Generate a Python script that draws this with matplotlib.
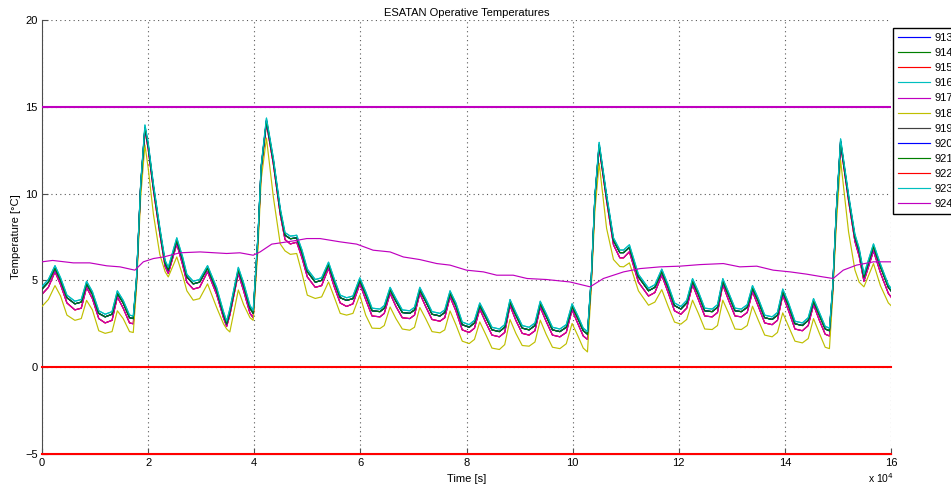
import numpy as np
import matplotlib
matplotlib.use("Agg")
import matplotlib.pyplot as plt
from matplotlib.ticker import FuncFormatter

# ---------------------------------------------------------------------------
# Data: node temperatures [degC] versus time (time given in units of 1e4 s)
# ---------------------------------------------------------------------------
time_1e4s = [
    0.00, 0.12, 0.245, 0.35, 0.47, 0.62, 0.74, 0.84, 0.95, 1.07, 1.19, 1.32, 1.42,
    1.53, 1.65, 1.72, 1.78, 1.86, 1.94, 2.00, 2.10, 2.22, 2.32, 2.38, 2.54, 2.65,
    2.73, 2.85, 2.97, 3.12, 3.29, 3.42, 3.48, 3.54, 3.70, 3.80, 3.92, 3.98, 4.07,
    4.13, 4.23, 4.36, 4.49, 4.58, 4.68, 4.80, 4.90, 5.00, 5.15, 5.27, 5.40, 5.50,
    5.62, 5.74, 5.86, 5.99, 6.10, 6.22, 6.37, 6.45, 6.56, 6.67, 6.79, 6.93, 7.02,
    7.12, 7.23, 7.35, 7.50, 7.59, 7.69, 7.80, 7.92, 8.05, 8.15, 8.25, 8.36, 8.48,
    8.62, 8.72, 8.82, 8.93, 9.05, 9.18, 9.29, 9.39, 9.50, 9.62, 9.76, 9.88, 9.99,
    10.10, 10.20, 10.28, 10.35, 10.42, 10.50, 10.64, 10.77, 10.89, 10.96, 11.07,
    11.24, 11.43, 11.55, 11.68, 11.80, 11.92, 12.04, 12.15, 12.26, 12.37, 12.49,
    12.63, 12.73, 12.83, 12.94, 13.06, 13.18, 13.29, 13.39, 13.50, 13.62, 13.76,
    13.86, 13.96, 14.07, 14.19, 14.33, 14.44, 14.54, 14.65, 14.76, 14.84, 14.90,
    14.97, 15.05, 15.20, 15.32, 15.40, 15.49, 15.67, 15.80, 15.95, 16.00,
]

# bulk of the nodes (913, 914, 919, 920, 921)
temp_main = [
    4.50, 4.90, 5.70, 5.00, 4.00, 3.65, 3.75, 4.80, 4.20, 3.10, 2.90, 3.05, 4.25,
    3.70, 2.85, 2.80, 5.00, 10.50, 13.80, 12.80, 10.40, 7.90, 6.00, 5.60, 7.30, 6.20,
    5.20, 4.80, 4.90, 5.70, 4.45, 3.05, 2.50, 3.20, 5.60, 4.70, 3.40, 3.10, 7.50,
    11.50, 14.20, 11.90, 9.00, 7.60, 7.40, 7.45, 6.60, 5.50, 4.90, 5.00, 5.90, 5.00,
    4.00, 3.85, 3.95, 5.00, 4.20, 3.25, 3.20, 3.40, 4.45, 3.80, 3.15, 3.10, 3.30,
    4.45, 3.80, 3.05, 2.95, 3.15, 4.25, 3.55, 2.45, 2.30, 2.55, 3.55, 2.90, 2.15,
    2.05, 2.30, 3.75, 3.00, 2.25, 2.15, 2.40, 3.65, 2.95, 2.15, 2.05, 2.30, 3.50,
    2.80, 2.10, 1.90, 5.00, 9.80, 12.80, 9.80, 7.30, 6.60, 6.60, 6.90,
    5.20, 4.40, 4.60, 5.50, 4.60, 3.55, 3.35, 3.70, 4.95, 4.20, 3.25,
    3.20, 3.45, 4.95, 4.15, 3.25, 3.20, 3.45, 4.55, 3.80, 2.85, 2.75,
    3.00, 4.35, 3.55, 2.50, 2.40, 2.70, 3.80, 3.00, 2.20, 2.10, 4.50,
    9.00, 13.00, 9.80, 7.50, 6.70, 5.20, 6.95, 5.80, 4.60, 4.40,
]

# nodes 916 / 923
temp_916 = [
    4.65, 5.05, 5.85, 5.15, 4.15, 3.80, 3.90, 4.95, 4.35, 3.25, 3.05, 3.20, 4.40,
    3.85, 3.00, 2.95, 5.10, 10.60, 13.95, 12.95, 10.55, 8.05, 6.15, 5.75, 7.45, 6.35,
    5.35, 4.95, 5.05, 5.85, 4.60, 3.20, 2.65, 3.35, 5.75, 4.85, 3.55, 3.25, 7.60,
    11.60, 14.35, 12.05, 9.15, 7.75, 7.55, 7.60, 6.75, 5.65, 5.05, 5.15, 6.05, 5.15,
    4.15, 4.00, 4.10, 5.15, 4.35, 3.40, 3.35, 3.55, 4.60, 3.95, 3.30, 3.25, 3.45,
    4.60, 3.95, 3.20, 3.10, 3.30, 4.40, 3.70, 2.60, 2.45, 2.70, 3.70, 3.05, 2.30,
    2.20, 2.45, 3.90, 3.15, 2.40, 2.30, 2.55, 3.80, 3.10, 2.30, 2.20, 2.45, 3.65,
    2.95, 2.25, 2.05, 5.10, 9.90, 12.95, 9.95, 7.45, 6.75, 6.75, 7.05,
    5.35, 4.55, 4.75, 5.65, 4.75, 3.70, 3.50, 3.85, 5.10, 4.35, 3.40,
    3.35, 3.60, 5.10, 4.30, 3.40, 3.35, 3.60, 4.70, 3.95, 3.00, 2.90,
    3.15, 4.50, 3.70, 2.65, 2.55, 2.85, 3.95, 3.15, 2.35, 2.25, 4.60,
    9.10, 13.15, 9.95, 7.65, 6.85, 5.35, 7.10, 5.95, 4.75, 4.55,
]

# nodes 917 (and 915 / 922)
temp_917 = [
    4.20, 4.60, 5.50, 4.75, 3.70, 3.30, 3.40, 4.60, 3.95, 2.80, 2.55, 2.70, 4.05,
    3.40, 2.55, 2.50, 4.80, 10.40, 13.65, 12.60, 10.20, 7.70, 5.80, 5.40, 7.10, 5.90,
    4.90, 4.50, 4.60, 5.50, 4.20, 2.85, 2.35, 3.00, 5.40, 4.40, 3.10, 2.85, 7.30,
    11.30, 14.05, 11.70, 8.80, 7.35, 7.10, 7.20, 6.30, 5.20, 4.60, 4.70, 5.70, 4.70,
    3.70, 3.50, 3.65, 4.80, 3.90, 2.95, 2.90, 3.10, 4.25, 3.50, 2.85, 2.80, 3.00,
    4.25, 3.50, 2.75, 2.65, 2.85, 4.05, 3.25, 2.15, 2.00, 2.25, 3.35, 2.60, 1.85,
    1.75, 2.00, 3.55, 2.70, 1.95, 1.85, 2.10, 3.45, 2.65, 1.85, 1.75, 2.00, 3.30,
    2.50, 1.80, 1.60, 4.80, 9.60, 12.65, 9.60, 7.05, 6.30, 6.30, 6.65,
    4.90, 4.10, 4.30, 5.30, 4.30, 3.25, 3.05, 3.40, 4.75, 3.90, 2.95,
    2.90, 3.15, 4.75, 3.85, 2.95, 2.90, 3.15, 4.35, 3.50, 2.55, 2.45,
    2.70, 4.15, 3.25, 2.20, 2.10, 2.40, 3.60, 2.70, 1.90, 1.80, 4.30,
    8.80, 12.85, 9.60, 7.25, 6.40, 4.95, 6.70, 5.45, 4.25, 4.05,
]

# node 918
temp_918 = [
    3.50, 3.90, 4.70, 4.10, 3.00, 2.70, 2.80, 3.85, 3.30, 2.10, 1.95, 2.05, 3.25,
    2.80, 2.05, 2.00, 4.50, 9.80, 12.80, 11.50, 8.80, 6.50, 5.50, 5.20, 6.35, 5.30,
    4.40, 3.86, 3.95, 4.80, 3.45, 2.50, 2.20, 2.03, 4.45, 3.60, 2.85, 2.70, 6.80,
    10.80, 13.20, 9.80, 7.10, 6.70, 6.50, 6.55, 5.40, 4.15, 3.96, 4.05, 4.91, 4.10,
    3.10, 3.00, 3.10, 4.15, 3.00, 2.25, 2.23, 2.40, 3.47, 2.80, 2.20, 2.13, 2.30,
    3.44, 2.80, 2.05, 1.98, 2.15, 3.24, 2.45, 1.50, 1.36, 1.60, 2.61, 1.90, 1.10,
    1.02, 1.30, 2.75, 1.95, 1.25, 1.21, 1.45, 2.71, 1.90, 1.15, 1.07, 1.35, 2.52,
    1.80, 1.10, 0.88, 4.50, 9.00, 11.75, 8.00, 6.20, 5.80, 5.78, 6.01,
    4.40, 3.57, 3.75, 4.47, 3.50, 2.60, 2.48, 2.75, 3.86, 3.10, 2.20,
    2.17, 2.40, 3.86, 3.10, 2.20, 2.17, 2.40, 3.51, 2.70, 1.85, 1.75,
    2.00, 3.13, 2.35, 1.50, 1.40, 1.65, 2.80, 1.95, 1.15, 1.07, 4.00,
    8.20, 11.92, 7.80, 5.60, 4.90, 4.63, 5.97, 4.70, 3.70, 3.55,
]

# node 924 (slowly varying)
time_924_1e4s = [
    0.00, 0.20, 0.59, 0.90, 1.22, 1.47, 1.75, 1.91, 2.10, 2.29, 2.60, 2.98, 3.48,
    3.73, 3.98, 4.11, 4.33, 4.49, 4.75, 4.99, 5.24, 5.62, 5.93, 6.24, 6.56, 6.81,
    7.12, 7.44, 7.69, 8.00, 8.32, 8.57, 8.88, 9.14, 9.51, 9.95, 10.33, 10.58,
    10.96, 11.27, 11.65, 12.02, 12.40, 12.84, 13.15, 13.47, 13.78, 14.10, 14.41,
    14.72, 14.91, 15.10, 15.35, 15.67, 16.00,
]
temp_924 = [
    6.07, 6.15, 6.01, 6.01, 5.84, 5.78, 5.59, 6.07, 6.26, 6.35, 6.59, 6.64, 6.55,
    6.59, 6.45, 6.64, 7.09, 7.16, 7.28, 7.41, 7.41, 7.22, 7.09, 6.74, 6.64, 6.35,
    6.20, 5.97, 5.88, 5.59, 5.49, 5.30, 5.30, 5.11, 5.05, 4.91, 4.63, 5.11,
    5.49, 5.68, 5.78, 5.82, 5.91, 5.97, 5.78, 5.82, 5.59, 5.49, 5.36,
    5.20, 5.11, 5.59, 5.88, 6.07, 6.07,
]

# operating limits [degC]
upper_limit = 15.0
lower_limits = [0.0, -5.0]

node_labels = ["913", "914", "915", "916", "917", "918",
               "919", "920", "921", "922", "923", "924"]
x_tick_values = [0, 2, 4, 6, 8, 10, 12, 14, 16]
y_tick_values = [-5, 0, 5, 10, 15, 20]

# ---------------------------------------------------------------------------
plt.rcParams["font.family"] = ["Liberation Sans", "DejaVu Sans"]

t = np.array(time_1e4s) * 1e4
t924 = np.array(time_924_1e4s) * 1e4

series = {
    "913": (t, temp_main), "914": (t, temp_main), "915": (t, temp_917),
    "916": (t, temp_916), "917": (t, temp_917), "918": (t, temp_918),
    "919": (t, temp_main), "920": (t, temp_main), "921": (t, temp_main),
    "922": (t, temp_917), "923": (t, temp_916), "924": (t924, temp_924),
}
colors = {
    "913": (0, 0, 1), "914": (0, 0.5, 0), "915": (1, 0, 0),
    "916": (0, 0.75, 0.75), "917": (0.75, 0, 0.75), "918": (0.75, 0.75, 0),
    "919": (0.25, 0.25, 0.25), "920": (0, 0, 1), "921": (0, 0.5, 0),
    "922": (1, 0, 0), "923": (0, 0.75, 0.75), "924": (0.75, 0, 0.75),
}
zorders = {"915": 2.0, "922": 2.1, "917": 2.2}

fig = plt.figure(figsize=(9.51, 4.86), dpi=100)
ax = fig.add_axes([42 / 951, 1 - 454 / 486, (891 - 42) / 951, (454 - 20) / 486])

handles = []
for name in node_labels:
    xs, ys = series[name]
    h, = ax.plot(xs, ys, color=colors[name], lw=0.85,
                 zorder=zorders.get(name, 2.5 + node_labels.index(name) * 0.01),
                 label=name)
    handles.append(h)

ax.axhline(upper_limit, color=(0.75, 0, 0.75), lw=1.5, zorder=4)
for lim in lower_limits:
    ax.axhline(lim, color=(1, 0, 0), lw=1.5, zorder=4, clip_on=False)

ax.set_xlim(0, 16e4)
ax.set_ylim(-5, 20)
ax.set_xticks([v * 1e4 for v in x_tick_values])
ax.xaxis.set_major_formatter(FuncFormatter(lambda v, p: f"{v / 1e4:g}"))
ax.set_yticks(y_tick_values)

ax.grid(True, linestyle=(0, (1, 3)), color=(0.35, 0.35, 0.35), lw=0.8)
ax.set_axisbelow(True)
for side in ("top", "right"):
    ax.spines[side].set_visible(False)
for side in ("left", "bottom"):
    ax.spines[side].set_color((0.3, 0.3, 0.3))
ax.tick_params(direction="in", length=4, width=0.8, colors=(0.3, 0.3, 0.3),
               labelsize=8, labelcolor="black", pad=3)

ax.set_title("ESATAN Operative Temperatures", fontsize=8, pad=3)
ax.set_xlabel("Time [s]", fontsize=8, labelpad=4)
ax.set_ylabel("Temperature [\u00b0C]", fontsize=8, labelpad=3)
fig.text(868 / 951, 1 - 483 / 486, "x 10$^{4}$", fontsize=7.5, ha="left",
         va="baseline")

leg = fig.legend(handles=handles, loc="upper left",
                 bbox_to_anchor=(893 / 951, 1 - 28 / 486),
                 fontsize=8, handlelength=2.9, handletextpad=0.35,
                 labelspacing=0.46, borderpad=0.45, borderaxespad=0,
                 fancybox=False, framealpha=1, edgecolor="black")
leg.get_frame().set_linewidth(1.0)

fig.savefig("out.png", dpi=100)
